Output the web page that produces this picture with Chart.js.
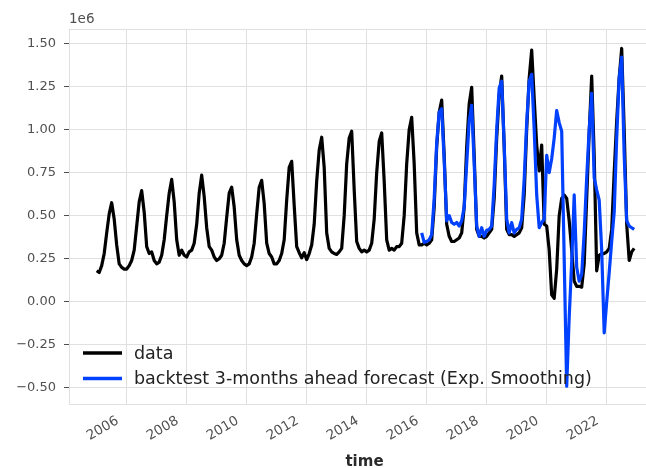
<!DOCTYPE html>
<html>
<head>
<meta charset="utf-8">
<script src="https://cdn.jsdelivr.net/npm/chart.js@4"></script>
<style>
    html, body { margin: 0; padding: 0; background: #fff; overflow: hidden; }
    #wrap { width: 680px; height: 471px; }
</style>
</head>
<body>
<div id="wrap"><canvas id="chart" width="680" height="471"></canvas></div>
<script>
// monthly series, Jan 2005 .. Dec 2022 (values in millions)
const dataStart = 2005;
const dataValues = [
    0.18, 0.17, 0.21, 0.28, 0.40, 0.51, 0.575, 0.48, 0.33, 0.22, 0.20, 0.19,   // 2005
    0.19, 0.21, 0.24, 0.30, 0.44, 0.58, 0.645, 0.52, 0.32, 0.28, 0.29, 0.24,   // 2006
    0.22, 0.23, 0.27, 0.36, 0.50, 0.63, 0.71, 0.58, 0.36, 0.27, 0.30, 0.27,    // 2007
    0.26, 0.29, 0.30, 0.34, 0.45, 0.63, 0.735, 0.61, 0.43, 0.32, 0.30, 0.26,   // 2008
    0.24, 0.25, 0.27, 0.34, 0.49, 0.63, 0.665, 0.55, 0.36, 0.27, 0.24, 0.22,   // 2009
    0.21, 0.22, 0.26, 0.34, 0.51, 0.665, 0.705, 0.57, 0.34, 0.28, 0.26, 0.22,  // 2010
    0.22, 0.24, 0.28, 0.36, 0.59, 0.78, 0.815, 0.56, 0.32, 0.285, 0.255, 0.285, // 2011
    0.245, 0.28, 0.33, 0.45, 0.70, 0.88, 0.955, 0.78, 0.40, 0.31, 0.29, 0.28,  // 2012
    0.275, 0.29, 0.31, 0.50, 0.80, 0.95, 0.99, 0.65, 0.35, 0.31, 0.29, 0.30,   // 2013
    0.29, 0.30, 0.34, 0.48, 0.75, 0.93, 0.98, 0.70, 0.36, 0.30, 0.31, 0.30,    // 2014
    0.32, 0.32, 0.34, 0.50, 0.80, 1.00, 1.07, 0.80, 0.40, 0.33, 0.33, 0.34,    // 2015
    0.33, 0.34, 0.36, 0.55, 0.90, 1.10, 1.17, 0.85, 0.45, 0.38, 0.35, 0.35,    // 2016
    0.36, 0.37, 0.40, 0.55, 0.90, 1.15, 1.245, 0.85, 0.42, 0.38, 0.38, 0.37,   // 2017
    0.38, 0.40, 0.42, 0.60, 0.95, 1.20, 1.31, 0.90, 0.42, 0.39, 0.39, 0.38,    // 2018
    0.39, 0.40, 0.43, 0.62, 1.00, 1.30, 1.46, 1.18, 0.91, 0.76, 0.91, 0.45,    // 2019
    0.44, 0.30, 0.04, 0.02, 0.19, 0.50, 0.60, 0.62, 0.60, 0.47, 0.30, 0.12,    // 2020
    0.09, 0.09, 0.085, 0.22, 0.60, 0.98, 1.31, 0.85, 0.18, 0.27, 0.28, 0.28,   // 2021
    0.29, 0.31, 0.42, 0.75, 1.05, 1.30, 1.47, 1.00, 0.45, 0.24, 0.29, 0.31     // 2022
];

// backtest forecast, Nov 2015 .. Dec 2022
const forecastStart = 2015 + 10 / 12;
const forecastValues = [
    0.40, 0.345,                                                               // 2015
    0.35, 0.36, 0.39, 0.60, 0.92, 1.10, 1.12, 0.82, 0.47, 0.50, 0.46, 0.45,    // 2016
    0.46, 0.44, 0.47, 0.55, 0.80, 1.05, 1.14, 0.80, 0.44, 0.38, 0.43, 0.38,    // 2017
    0.415, 0.42, 0.44, 0.68, 1.00, 1.24, 1.28, 0.91, 0.48, 0.40, 0.46, 0.40,   // 2018
    0.42, 0.43, 0.48, 0.71, 1.04, 1.28, 1.32, 1.00, 0.62, 0.43, 0.46, 0.48,    // 2019
    0.85, 0.75, 0.83, 0.95, 1.11, 1.04, 0.99, 0.25, -0.49, -0.09, 0.23, 0.62,  // 2020
    0.20, 0.12, 0.16, 0.40, 0.72, 1.00, 1.21, 0.72, 0.65, 0.59, 0.30, -0.18,   // 2021
    0.0, 0.17, 0.35, 0.52, 0.95, 1.30, 1.42, 0.85, 0.47, 0.44, 0.43, 0.42      // 2022
];

const xTicks = [2006, 2008, 2010, 2012, 2014, 2016, 2018, 2020, 2022];
const yTicks = [-0.5, -0.25, 0, 0.25, 0.5, 0.75, 1.0, 1.25, 1.5];
const legendLabels = ['data', 'backtest 3-months ahead forecast (Exp. Smoothing)'];
const seriesColors = ['#000000', '#0040ff'];

const gridColor = '#e0e0e0';
const tickColor = '#505050';
const font = '"DejaVu Sans", sans-serif';

const toPoints = (start, values) => values.map((v, i) => ({ x: start + i / 12, y: v }));

function fmtY(v) {
    const s = Math.abs(v).toFixed(2);
    return v < 0 ? '\u2212' + s : s;
}

const overlay = {
    id: 'overlay',
    beforeDatasetsDraw(chart) {
        const { ctx, chartArea: a } = chart;
        ctx.save();
        ctx.strokeStyle = gridColor;
        ctx.lineWidth = 1;
        ctx.beginPath();
        ctx.moveTo(a.left, a.top + 0.5);
        ctx.lineTo(a.right, a.top + 0.5);
        ctx.stroke();
        ctx.restore();
    },
    afterDraw(chart) {
        const { ctx, chartArea: a } = chart;
        ctx.save();
        ctx.fillStyle = tickColor;
        ctx.font = '13.5px ' + font;
        ctx.textAlign = 'left';
        ctx.textBaseline = 'middle';
        ctx.fillText('1e6', a.left, 19);

        ctx.font = '17.5px ' + font;
        legendLabels.forEach((label, i) => {
            const y = a.bottom - 51 + i * 25.5;
            ctx.strokeStyle = seriesColors[i];
            ctx.lineWidth = 3.6;
            ctx.beginPath();
            ctx.moveTo(a.left + 14, y);
            ctx.lineTo(a.left + 53, y);
            ctx.stroke();
            ctx.fillStyle = '#222';
            ctx.fillText(label, a.left + 65, y + 1);
        });
        ctx.restore();
    }
};

new Chart(document.getElementById('chart'), {
    type: 'line',
    data: {
        datasets: [
            {
                label: legendLabels[0],
                data: toPoints(dataStart, dataValues),
                borderColor: seriesColors[0],
                borderWidth: 3.2,
                pointRadius: 0,
                tension: 0,
                borderJoinStyle: 'round',
                order: 1
            },
            {
                label: legendLabels[1],
                data: toPoints(forecastStart, forecastValues),
                borderColor: seriesColors[1],
                borderWidth: 3.2,
                pointRadius: 0,
                tension: 0,
                borderJoinStyle: 'round',
                order: 0
            }
        ]
    },
    options: {
        responsive: false,
        animation: false,
        layout: { padding: { top: 29, right: 20, left: 0, bottom: 0 } },
        plugins: { legend: { display: false }, tooltip: { enabled: false } },
        scales: {
            x: {
                type: 'linear',
                min: 2004.077,
                max: 2023.777,
                afterBuildTicks: s => { s.ticks = xTicks.map(v => ({ value: v })); },
                afterFit: s => { s.height = 67; },
                grid: { color: gridColor, drawTicks: false },
                border: { display: true, color: gridColor },
                ticks: {
                    color: tickColor,
                    font: { family: font, size: 13.5 },
                    minRotation: 30,
                    maxRotation: 30,
                    padding: 9,
                    labelOffset: -9,
                    callback: v => String(v)
                },
                title: {
                    display: true,
                    text: 'time',
                    color: '#2a2a2a',
                    font: { family: font, size: 15, weight: 'bold' },
                    padding: { top: 0, bottom: 0 }
                }
            },
            y: {
                min: -0.593,
                max: 1.583,
                afterBuildTicks: s => { s.ticks = yTicks.map(v => ({ value: v })); },
                afterFit: s => { s.width = 69; },
                grid: { color: gridColor, tickLength: 5, tickColor: tickColor },
                border: { display: true, color: gridColor },
                ticks: {
                    color: tickColor,
                    font: { family: font, size: 13 },
                    padding: 8,
                    callback: v => fmtY(v)
                }
            }
        }
    },
    plugins: [overlay]
});
</script>
</body>
</html>
